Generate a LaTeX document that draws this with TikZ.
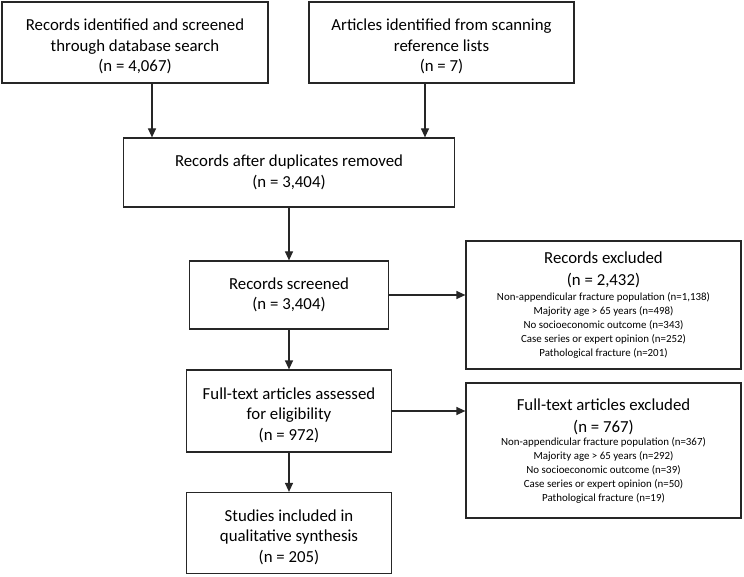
\documentclass[tikz,border=0pt]{standalone}
\usepackage{fontspec}
\setmainfont{Carlito}
\usetikzlibrary{arrows.meta}
\tikzset{
  box/.style={draw=black!85, line width=1.2pt, inner sep=0pt},
  plain/.style={inner sep=0pt, align=center},
  main/.style={font=\fontsize{16.8}{20.5}\selectfont},
  big/.style={font=\fontsize{16.8}{22}\selectfont},
  small/.style={font=\fontsize{10.9}{14}\selectfont},
  arr/.style={draw=black!85, line width=1.2pt, -{Triangle[width=8pt,length=9pt]}}
}
\begin{document}
\begin{tikzpicture}[x=1pt,y=-1pt]
\useasboundingbox (0,0) rectangle (744,577);
% boxes
\node[box, minimum width=266pt, minimum height=81pt] (A) at (135,42.5) {};
\node[box, minimum width=265pt, minimum height=81pt] (B) at (441.5,42.5) {};
\node[box, minimum width=331pt, minimum height=69pt] (C) at (289,172.5) {};
\node[box, minimum width=199pt, minimum height=68pt] (D) at (289,295) {};
\node[box, minimum width=275pt, minimum height=128pt] (E) at (603.5,305) {};
\node[box, minimum width=205pt, minimum height=82pt] (F) at (289,411) {};
\node[box, minimum width=275pt, minimum height=135pt] (G) at (603.5,450.5) {};
\node[box, minimum width=205pt, minimum height=81pt] (H) at (289,533) {};
% texts
\node[plain, main] (At) at (135,46.5)
  {Records identified and screened\\through database search\\(n = 4,067)};
\node[plain, main] (Bt) at (441.5,46.5)
  {Articles identified from scanning\\reference lists\\(n = 7)};
\node[plain, main] (Ct) at (289,172.5)
  {Records after duplicates removed\\(n = 3,404)};
\node[plain, main] (Dt) at (289,295)
  {Records screened\\(n = 3,404)};
\node[plain, big] (Et) at (603.5,269.5) {Records excluded\\(n = 2,432)};
\node[plain, small] (El) at (603.5,325)
  {Non-appendicular fracture population (n=1,138)\\Majority age > 65 years (n=498)\\No socioeconomic outcome (n=343)\\Case series or expert opinion (n=252)\\Pathological fracture (n=201)};
\node[plain, main] (Ft) at (289,415)
  {Full-text articles assessed\\for eligibility\\(n = 972)};
\node[plain, big] (Gt) at (603.5,416.5) {Full-text articles excluded\\(n = 767)};
\node[plain, small] (Gl) at (603.5,470.5)
  {Non-appendicular fracture population (n=367)\\Majority age > 65 years (n=292)\\No socioeconomic outcome (n=39)\\Case series or expert opinion (n=50)\\Pathological fracture (n=19)};
\node[plain, main] (Ht) at (289,537)
  {Studies included in\\qualitative synthesis\\(n = 205)};
% connectors
\draw[arr] ([xshift=17pt]A.south) -- ([xshift=17pt]A.south |- C.north);
\draw[arr] ([xshift=-16.5pt]B.south) -- ([xshift=-16.5pt]B.south |- C.north);
\draw[arr] (C.south) -- (D.north);
\draw[arr] (D.east) -- (D.east -| E.west);
\draw[arr] (D.south) -- (D.south |- F.north);
\draw[arr] (F.east) -- (F.east -| G.west);
\draw[arr] (F.south) -- (H.north);
\end{tikzpicture}
\end{document}
